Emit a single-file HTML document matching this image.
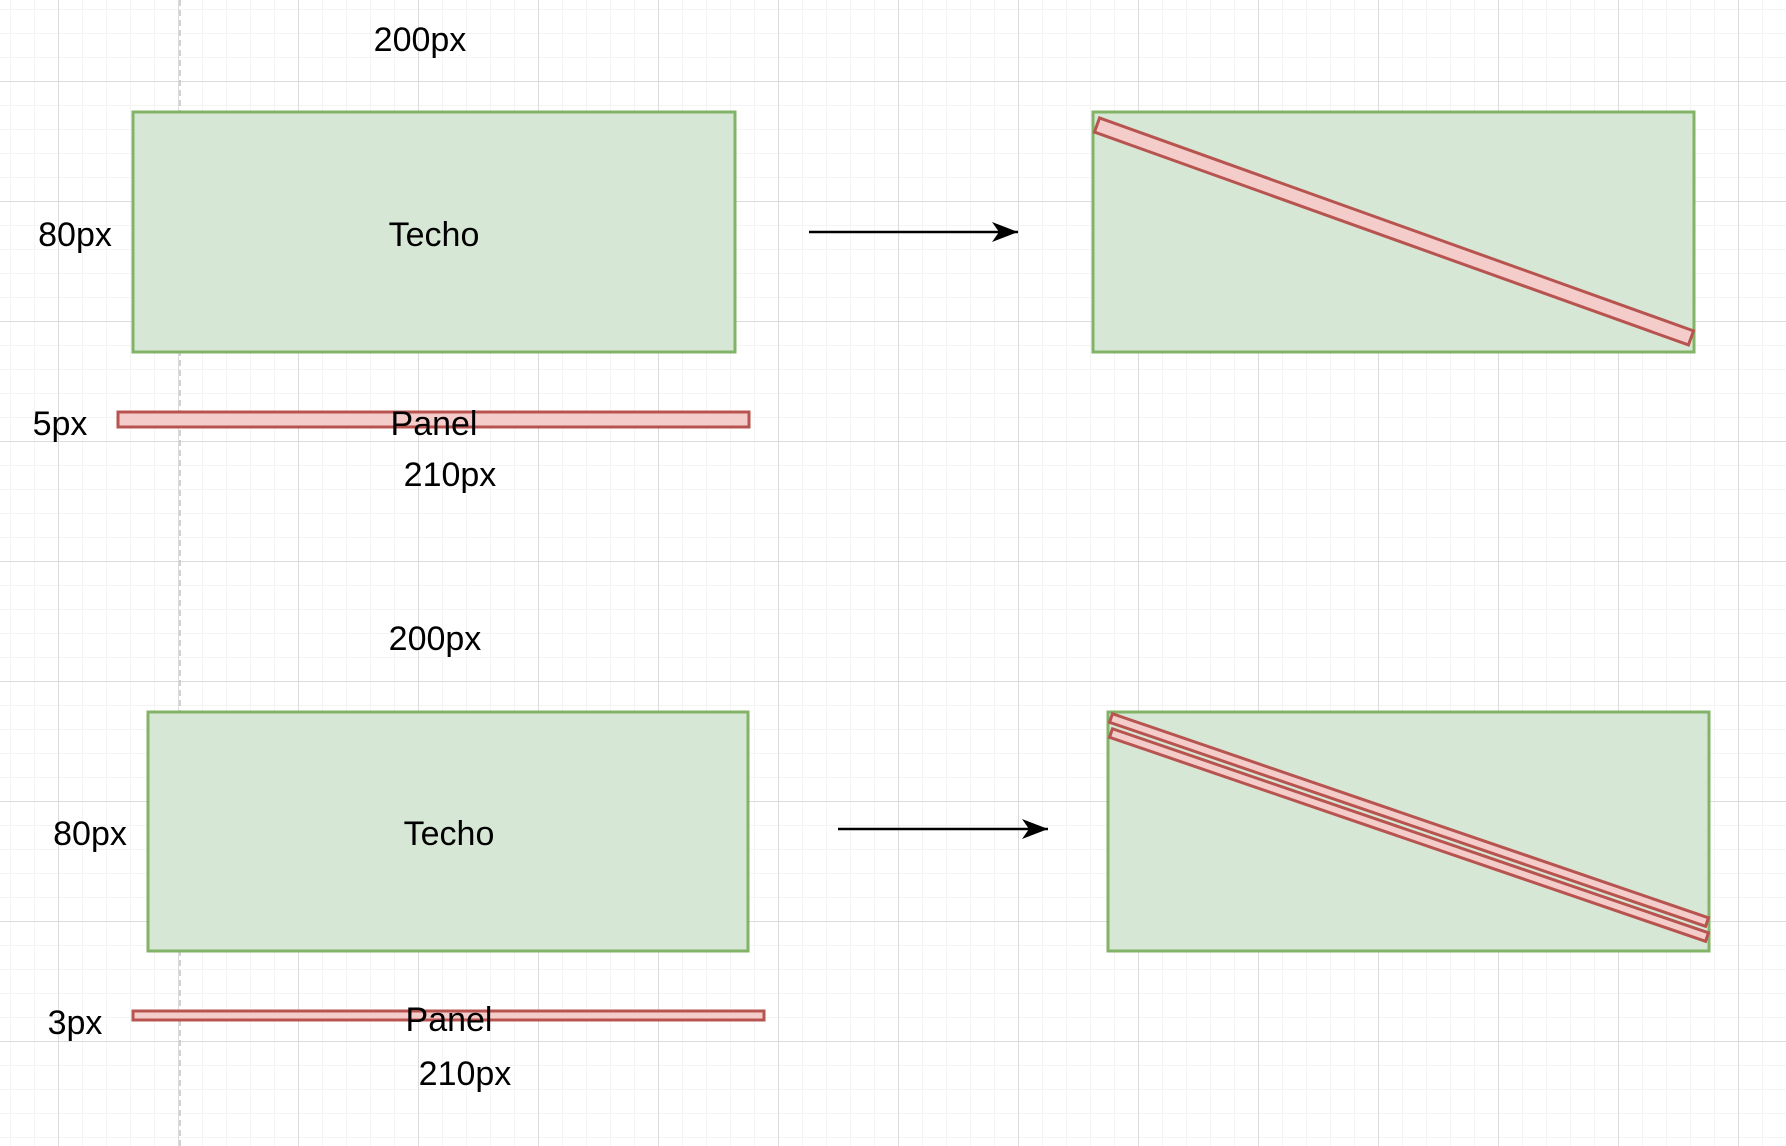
<!DOCTYPE html>
<html><head><meta charset="utf-8"><style>
html,body{margin:0;padding:0;background:#fff}
svg{display:block}
text{font-family:"Liberation Sans",Arial,sans-serif;font-size:34px;fill:#000}
</style></head><body>
<svg width="1786" height="1146" viewBox="0 0 1786 1146" xmlns="http://www.w3.org/2000/svg">
<defs>
<pattern id="minor" x="58" y="81" width="24" height="24" patternUnits="userSpaceOnUse">
<path d="M0 0H24M0 0V24" stroke="#f1f1f1" stroke-width="1.5" fill="none"/>
</pattern>
<pattern id="major" x="58" y="81" width="120" height="120" patternUnits="userSpaceOnUse">
<path d="M0 0H120M0 0V120" stroke="#d3d3d3" stroke-width="1.5" fill="none"/>
</pattern>
<marker id="ah" markerWidth="28" markerHeight="22" refX="26" refY="11" orient="auto" markerUnits="userSpaceOnUse">
<path d="M0 1L26 11L0 21L7 11Z" fill="#000"/>
</marker>
</defs>
<rect width="1786" height="1146" fill="url(#minor)"/>
<rect width="1786" height="1146" fill="url(#major)"/>
<line x1="180" y1="0" x2="180" y2="1146" stroke="#c4c4c4" stroke-width="1.5" stroke-dasharray="6 4"/>

<g>
<text x="420" y="51" text-anchor="middle">200px</text>
<rect x="133" y="112" width="602" height="240" fill="#d7e7d5" stroke="#82b366" stroke-width="3"/>
<text x="434" y="246" text-anchor="middle">Techo</text>
<text x="75" y="246" text-anchor="middle">80px</text>
<rect x="118" y="412" width="631" height="15" fill="#f4cdcb" stroke="#b85450" stroke-width="3"/>
<text x="434" y="435" text-anchor="middle">Panel</text>
<text x="60" y="435" text-anchor="middle">5px</text>
<text x="450" y="486" text-anchor="middle">210px</text>
<line x1="809" y1="232" x2="1018" y2="232" stroke="#000" stroke-width="2.5" marker-end="url(#ah)"/>
<rect x="1093" y="112" width="601" height="240" fill="#d7e7d5" stroke="#82b366" stroke-width="3"/>
<g transform="translate(1097,125) rotate(19.72)">
<rect x="0" y="-7.5" width="631" height="15" fill="#f4cdcb" stroke="#b85450" stroke-width="3"/>
</g>
</g>

<g>
<text x="435" y="650" text-anchor="middle">200px</text>
<rect x="148" y="712" width="600" height="239" fill="#d7e7d5" stroke="#82b366" stroke-width="3"/>
<text x="449" y="845" text-anchor="middle">Techo</text>
<text x="90" y="845" text-anchor="middle">80px</text>
<rect x="133" y="1011" width="631" height="9" fill="#f4cdcb" stroke="#b85450" stroke-width="3"/>
<text x="449" y="1031" text-anchor="middle">Panel</text>
<text x="75" y="1034" text-anchor="middle">3px</text>
<text x="465" y="1085" text-anchor="middle">210px</text>
<line x1="838" y1="829" x2="1048" y2="829" stroke="#000" stroke-width="2.5" marker-end="url(#ah)"/>
<rect x="1108" y="712" width="601" height="239" fill="#d7e7d5" stroke="#82b366" stroke-width="3"/>
<g transform="translate(1111,718) rotate(18.9)">
<rect x="0" y="-4.5" width="630" height="9" fill="#f4cdcb" stroke="#b85450" stroke-width="3"/>
</g>
<g transform="translate(1111,733) rotate(18.9)">
<rect x="0" y="-4.5" width="630" height="9" fill="#f4cdcb" stroke="#b85450" stroke-width="3"/>
</g>
</g>
</svg>
</body></html>
